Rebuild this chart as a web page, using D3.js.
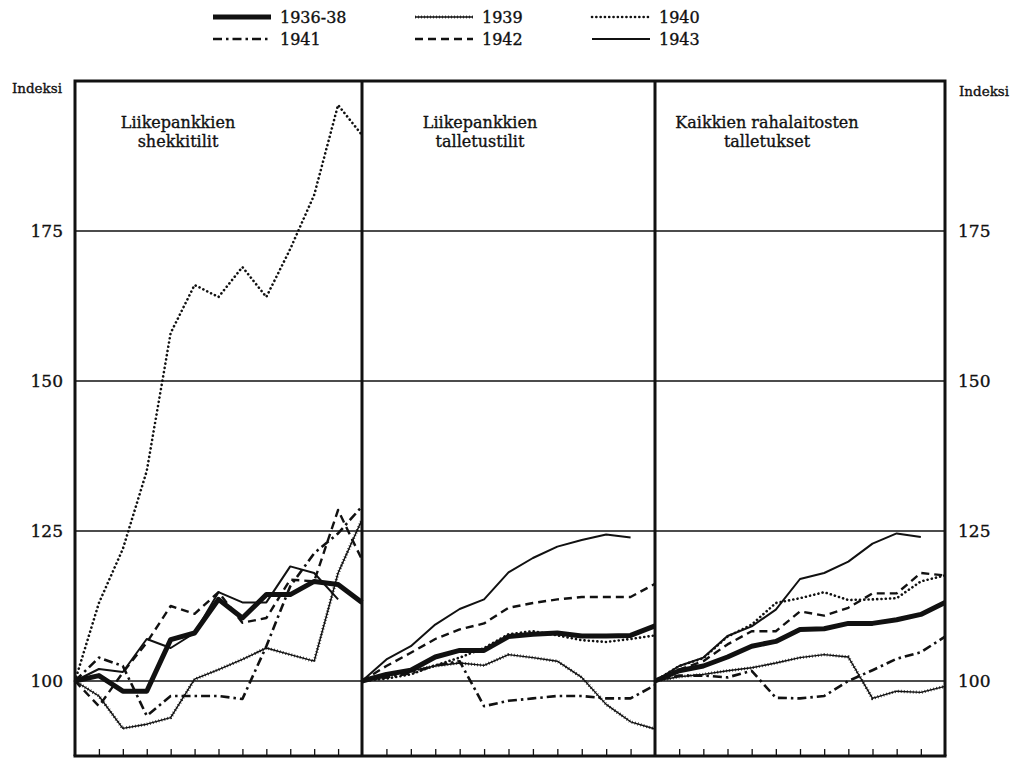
<!DOCTYPE html>
<html><head><meta charset="utf-8">
<script src="https://cdn.jsdelivr.net/npm/d3@7"></script>
<style>
body{margin:0;background:#fff;}
svg{display:block;}
text{font-family:"DejaVu Serif",serif;fill:#111;stroke:#111;stroke-width:0.35px;}
</style></head>
<body><svg id="c" width="1016" height="767"></svg>
<script>
// ---- data ----
const months = ["XII","I","II","III","IV","V","VI","VII","VIII","IX","X","XI","XII"];
const years = ["1936-38","1939","1940","1941","1942","1943"];
const yTicks = [100,125,150,175];
const panelTitles = [["Liikepankkien","shekkitilit"],["Liikepankkien","talletustilit"],["Kaikkien rahalaitosten","talletukset"]];

// Liikepankkien shekkitilit
const shekki1936 = [100,100.9,98.3,98.3,106.9,108.0,113.6,110.5,114.4,114.4,116.6,116.1,113.1];
const shekki1939 = [100,97.5,92.1,92.8,93.9,100.3,101.9,103.6,105.5,104.4,103.3,118.0,126.9];
const shekki1940 = [100,113,122,135,158,166,164,169,164,172,181,196,191];
const shekki1941 = [100,103.9,102.5,94.2,97.5,97.5,97.5,97.0,105.8,115.8,121.3,124.6,129.1];
const shekki1942 = [100,95.8,101.4,106.4,112.5,111.2,114.8,109.7,110.5,116.9,116.6,128.5,120.2];
const shekki1943 = [100,102.0,101.5,107.0,105.5,108.0,114.8,113.1,113.1,119.1,118.0,113.6];
// Liikepankkien talletustilit
const tall1936 = [100,101.1,101.8,104.0,105.1,105.1,107.4,107.8,108.0,107.5,107.5,107.6,109.2];
const tall1939 = [100,100.8,101.7,102.5,103.0,102.6,104.4,103.9,103.3,100.6,96.1,93.2,92.0];
const tall1940 = [100,100.4,101.1,102.6,103.9,105.5,107.8,108.3,107.6,106.8,106.5,107.0,107.6];
const tall1941 = [100,100.6,101.3,102.6,103.3,95.8,96.7,97.1,97.5,97.5,97.1,97.1,99.3];
const tall1942 = [100,102.5,104.7,107.0,108.6,109.6,112.2,113.0,113.6,114.0,114.0,114.0,116.2];
const tall1943 = [100,103.6,105.8,109.4,112.0,113.6,118.1,120.5,122.4,123.5,124.4,123.9];
// Kaikkien rahalaitosten talletukset
const kaik1936 = [100,101.7,102.5,104.0,105.8,106.6,108.6,108.7,109.6,109.6,110.2,111.1,113.1];
const kaik1939 = [100,100.7,101.1,101.7,102.2,103.0,103.9,104.4,104.0,97.1,98.3,98.1,99.1];
const kaik1940 = [100,102.5,103.8,107.4,109.4,113.0,113.8,114.8,113.5,113.6,113.8,116.6,117.6];
const kaik1941 = [100,100.9,100.9,100.6,101.7,97.2,97.1,97.5,100.0,101.8,103.7,104.8,107.4];
const kaik1942 = [100,101.9,103.3,106.1,108.3,108.3,111.6,110.9,112.2,114.6,114.6,118.0,117.6];
const kaik1943 = [100,102.5,103.9,107.5,109.1,111.9,117.0,118.0,119.9,122.9,124.6,124.0];

const panelSeries = [
  [shekki1936,shekki1939,shekki1940,shekki1941,shekki1942,shekki1943],
  [tall1936,tall1939,tall1940,tall1941,tall1942,tall1943],
  [kaik1936,kaik1939,kaik1940,kaik1941,kaik1942,kaik1943]
];

// ---- layout ----
const svg = d3.select("#c");
const topY = 81, bottomY = 756;
const edges = [75,362,655,945];
const y = d3.scaleLinear().domain([87.5,200]).range([bottomY,topY]);

const styles = [
  {w:5, dash:null},            // 1936-38
  {w:1.4, dash:null, barb:true}, // 1939
  {w:2.6, dash:"0.1,4.2", cap:"round"}, // 1940
  {w:2.6, dash:"9,4,2.5,4"},   // 1941
  {w:2.4, dash:"8,5"},         // 1942
  {w:2, dash:null}             // 1943
];

function drawStroke(sel, st){
  sel.attr("fill","none").attr("stroke","#111").attr("stroke-width",st.w)
     .attr("stroke-linejoin","round");
  if(st.dash) sel.attr("stroke-dasharray",st.dash);
  if(st.cap) sel.attr("stroke-linecap",st.cap);
}

// gridlines
svg.append("g").selectAll("line").data(yTicks).join("line")
  .attr("x1",edges[0]).attr("x2",edges[3])
  .attr("y1",d=>y(d)).attr("y2",d=>y(d))
  .attr("stroke","#111").attr("stroke-width",1.4);

// panels
panelSeries.forEach((series,p)=>{
  const x = d3.scalePoint().domain(d3.range(months.length)).range([edges[p],edges[p+1]]);
  const g = svg.append("g");
  const line = d3.line().x((d,i)=>x(i)).y(d=>y(d));
  series.forEach((vals,k)=>{
    const st = styles[k];
    const path = g.append("path").attr("d",line(vals));
    drawStroke(path, st);
    if(st.barb){
      g.append("path").attr("d",line(vals)).attr("fill","none").attr("stroke","#111")
        .attr("stroke-width",3.2).attr("stroke-dasharray","0.7,2.3");
    }
  });
  // bottom ticks
  const axis = d3.axisBottom(x).tickSize(-7).tickFormat("").tickSizeOuter(0)
    .tickValues(d3.range(1,months.length-1));
  const ag = svg.append("g").attr("transform",`translate(0,${bottomY})`).call(axis);
  ag.select(".domain").remove();
  ag.selectAll("line").attr("stroke","#111").attr("stroke-width",1.3);
  // title
  const cx = [178,480,767][p];
  panelTitles[p].forEach((s,j)=>{
    svg.append("text").attr("text-anchor","middle").attr("font-size",16)
      .attr("x",cx).attr("y",128+j*18.8).text(s);
  });
});

// frame
svg.append("path")
  .attr("d",`M${edges[0]},${bottomY}V${topY}H${edges[3]}V${bottomY}`)
  .attr("fill","none").attr("stroke","#111").attr("stroke-width",3);
edges.slice(1,3).forEach(e=>{
  svg.append("line").attr("x1",e).attr("x2",e).attr("y1",topY).attr("y2",bottomY)
    .attr("stroke","#111").attr("stroke-width",3);
});
svg.append("line").attr("x1",edges[0]-1.5).attr("x2",edges[3]+1.5).attr("y1",bottomY).attr("y2",bottomY)
  .attr("stroke","#111").attr("stroke-width",3);

// y labels
const yl = d3.axisLeft(y).tickValues(yTicks).tickSize(0).tickPadding(12);
const gl = svg.append("g").attr("transform",`translate(${edges[0]},0)`).call(yl);
gl.select(".domain").remove();
gl.selectAll("text").attr("font-family","DejaVu Serif").attr("font-size",17).attr("fill","#111").attr("dy","0.35em");
const yr = d3.axisRight(y).tickValues(yTicks).tickSize(0).tickPadding(13);
const gr = svg.append("g").attr("transform",`translate(${edges[3]},0)`).call(yr);
gr.select(".domain").remove();
gr.selectAll("text").attr("font-family","DejaVu Serif").attr("font-size",17).attr("fill","#111").attr("dy","0.35em");

svg.append("text").attr("x",62).attr("y",93).attr("text-anchor","end").attr("font-size",13.5).text("Indeksi");
svg.append("text").attr("x",959).attr("y",96).attr("font-size",13.5).text("Indeksi");

// legend
const legPos = [[213,17],[415,17],[592,17],[213,39],[415,39],[592,39]];
years.forEach((yr_,k)=>{
  const [lx,ly] = legPos[k];
  const st = styles[k];
  const l = svg.append("line").attr("x1",lx).attr("x2",lx+58).attr("y1",ly).attr("y2",ly);
  drawStroke(l, st);
  if(st.barb){
    svg.append("line").attr("x1",lx).attr("x2",lx+58).attr("y1",ly).attr("y2",ly)
      .attr("stroke","#111").attr("stroke-width",3.2).attr("stroke-dasharray","0.7,2.3");
  }
  svg.append("text").attr("x",lx+67).attr("y",ly).attr("dy","0.35em").attr("font-size",16).text(yr_);
});
</script></body></html>
